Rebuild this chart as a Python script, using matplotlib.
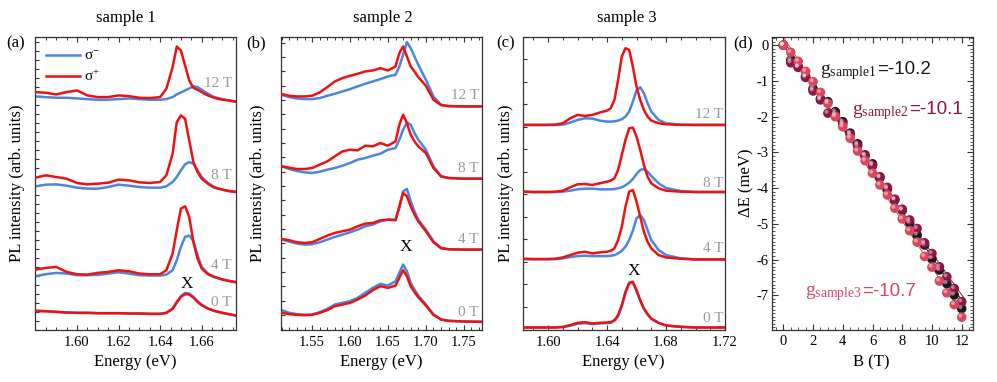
import numpy as np
import matplotlib
matplotlib.use('Agg')
import matplotlib.pyplot as plt
import matplotlib.transforms as mtransforms
from matplotlib.ticker import MultipleLocator, FixedLocator
from matplotlib.lines import Line2D

plt.rcParams['font.family'] = ['Liberation Serif', 'DejaVu Serif']
plt.rcParams['mathtext.fontset'] = 'custom'
plt.rcParams['mathtext.rm'] = 'Liberation Serif'
plt.rcParams['mathtext.it'] = 'Liberation Serif:italic'
plt.rcParams['mathtext.sf'] = 'Liberation Sans'
plt.rcParams['axes.unicode_minus'] = False

# ---------------- data ----------------
fields = ['0 T', '4 T', '8 T', '12 T']

# sample 1 (panel a)
energy_a = [1.580, 1.585, 1.590, 1.595, 1.600, 1.605, 1.610, 1.615, 1.620, 1.625,
            1.630, 1.635, 1.640, 1.643, 1.646, 1.648, 1.650, 1.652, 1.654, 1.656,
            1.658, 1.660, 1.663, 1.666, 1.670, 1.673, 1.6765]
offset_a = [42, 142, 413, 684]
sminus_a = [
    [14, 13, 11, 9, 8, 8, 7, 7, 7, 6, 6, 5, 5, 8, 21, 41, 58, 68, 66, 56, 43, 32, 21, 14, 8, 4, 0],
    [18, 24, 28, 26, 21, 21, 22, 26, 30, 26, 21, 20, 20, 23, 36, 66, 106, 136, 140, 124, 81, 46, 26, 16, 8, 4, 0],
    [17, 22, 23, 19, 13, 10, 10, 15, 22, 19, 15, 13, 13, 17, 30, 45, 65, 83, 90, 85, 65, 45, 27, 15, 7, 3, 0],
    [16, 14, 12, 12, 10, 8, 6, 6, 8, 10, 8, 6, 6, 8, 14, 22, 28, 34, 40, 47, 44, 36, 24, 14, 8, 4, 0],
]
splus_a = [
    [14, 13, 11, 9, 8, 8, 7, 7, 7, 6, 6, 5, 5, 8, 20, 39, 56, 64, 63, 54, 41, 31, 21, 14, 8, 4, 0],
    [38, 43, 46, 31, 24, 23, 28, 31, 36, 33, 26, 24, 24, 36, 86, 156, 221, 228, 196, 121, 71, 41, 24, 16, 8, 4, 0],
    [43, 50, 45, 40, 27, 23, 25, 28, 37, 35, 29, 27, 30, 50, 115, 210, 230, 220, 155, 90, 60, 40, 25, 13, 7, 3, 0],
    [29, 27, 22, 29, 34, 19, 14, 14, 19, 17, 12, 11, 14, 39, 104, 166, 154, 109, 64, 42, 36, 29, 19, 12, 6, 4, 0],
]

# sample 2 (panel b)
energy_b = [1.510, 1.520, 1.530, 1.540, 1.550, 1.560, 1.570, 1.580, 1.590, 1.600,
            1.610, 1.620, 1.630, 1.640, 1.650, 1.660, 1.665, 1.670, 1.675, 1.680,
            1.685, 1.690, 1.700, 1.710, 1.720, 1.730, 1.750, 1.774]
offset_b = [23, 240, 453, 670]
sminus_b = [
    [35, 27, 23, 21, 22, 29, 39, 52, 57, 62, 72, 87, 102, 114, 109, 122, 147, 172, 152, 117, 97, 79, 52, 22, 7, 3, 1, 0],
    [30, 24, 18, 15, 16, 22, 30, 38, 45, 52, 60, 70, 75, 85, 90, 90, 125, 175, 182, 145, 115, 90, 60, 25, 5, 1, 0, 0],
    [37, 29, 23, 19, 17, 21, 27, 32, 39, 47, 57, 62, 69, 75, 87, 92, 117, 147, 169, 162, 137, 117, 87, 37, 7, 2, 0, 0],
    [35, 28, 24, 22, 22, 25, 32, 38, 45, 52, 60, 68, 75, 82, 90, 95, 120, 155, 193, 175, 150, 125, 80, 30, 5, 1, 0, 0],
]
splus_b = [
    [27, 23, 21, 20, 21, 27, 35, 47, 52, 57, 67, 79, 95, 107, 102, 109, 132, 155, 137, 107, 89, 74, 49, 21, 7, 3, 1, 0],
    [32, 28, 22, 20, 22, 32, 42, 50, 55, 60, 70, 78, 80, 88, 90, 88, 130, 170, 160, 130, 105, 85, 55, 22, 4, 1, 0, 0],
    [37, 33, 29, 29, 32, 42, 52, 67, 82, 87, 85, 99, 97, 107, 99, 112, 162, 192, 167, 132, 112, 97, 77, 32, 7, 2, 0, 0],
    [37, 32, 30, 30, 32, 42, 58, 75, 85, 92, 98, 105, 108, 115, 108, 120, 160, 180, 150, 120, 105, 88, 62, 20, 4, 1, 0, 0],
]

# sample 3 (panel c)
energy_c = [1.583, 1.590, 1.600, 1.605, 1.610, 1.615, 1.620, 1.625, 1.630, 1.635,
            1.640, 1.6425, 1.645, 1.6475, 1.650, 1.6525, 1.655, 1.6575, 1.660, 1.6625,
            1.665, 1.6675, 1.670, 1.675, 1.680, 1.690, 1.700, 1.720]
offset_c = [6, 210, 412, 613]
sminus_c = [
    [0, 0, 0, 0, 1, 5, 11, 13, 10, 12, 13, 14, 20, 34, 64, 104, 132, 134, 110, 80, 56, 39, 26, 13, 6, 2, 0, 0],
    [1, 1, 1, 1, 3, 7, 10, 11, 10, 10, 10, 11, 13, 18, 26, 38, 58, 86, 123, 133, 118, 88, 58, 28, 13, 3, 0, 0],
    [1, 0, 0, 0, 1, 4, 8, 10, 10, 8, 8, 8, 9, 11, 14, 20, 28, 39, 54, 66, 69, 61, 48, 26, 12, 3, 0, 0],
    [0, 0, 0, 0, 1, 7, 15, 20, 19, 13, 10, 10, 11, 13, 17, 25, 40, 70, 103, 113, 95, 65, 40, 15, 5, 1, 0, 0],
]
splus_c = [
    [0, 0, 0, 0, 2, 7, 14, 16, 12, 14, 15, 16, 22, 37, 67, 107, 134, 137, 112, 82, 57, 40, 27, 14, 6, 2, 0, 0],
    [2, 1, 1, 2, 6, 13, 20, 23, 18, 21, 23, 26, 33, 58, 98, 158, 203, 208, 173, 128, 83, 53, 33, 13, 6, 2, 0, 0],
    [1, 0, 0, 1, 4, 14, 23, 24, 21, 26, 31, 34, 41, 66, 111, 156, 191, 193, 166, 126, 81, 46, 26, 11, 4, 1, 0, 0],
    [0, 0, 0, 1, 5, 20, 30, 27, 30, 37, 43, 50, 75, 135, 205, 230, 225, 175, 115, 75, 45, 25, 13, 5, 2, 0, 0, 0],
]

# panel d: Zeeman splitting
B_field = [0, 0.5, 1, 1.5, 2, 2.5, 3, 3.5, 4, 4.5, 5, 5.5, 6, 6.5, 7, 7.5, 8, 8.5,
           9, 9.5, 10, 10.5, 11, 11.5, 12]
dE_sample1 = [0, -0.42, -0.60, -0.88, -1.22, -1.50, -1.58, -1.86, -2.14, -2.46, -2.76,
              -3.07, -3.32, -3.71, -4.03, -4.33, -4.62, -4.97, -5.31, -5.59, -5.97,
              -6.29, -6.67, -6.99, -7.37]
dE_sample2 = [0, -0.49, -0.62, -0.90, -1.28, -1.53, -1.90, -1.95, -2.20, -2.50, -2.82,
              -3.10, -3.37, -3.68, -3.98, -4.31, -4.59, -4.89, -5.13, -5.53, -5.83,
              -6.20, -6.48, -6.81, -7.18]
dE_sample3 = [0, -0.20, -0.45, -0.73, -1.02, -1.32, -1.63, -2.00, -2.28, -2.60, -2.96,
              -3.23, -3.58, -3.91, -4.19, -4.56, -4.86, -5.19, -5.51, -5.91, -6.21,
              -6.60, -6.93, -7.26, -7.61]
g_names = ['sample1', 'sample2', 'sample3']
g_values = ['-10.2', '-10.1', '-10.7']

# ---------------- style ----------------
BLUE = '#4a86e0'
RED = '#ee1111'
GRAY = '#9a9a9a'
SPINE = '#333333'
C1, C2, C3 = '#1a1a1a', '#8a1746', '#d9475f'

W, H = 997, 382
fig = plt.figure(figsize=(W / 100, H / 100), dpi=100)


def axrect(x0, x1, y0=36.5, y1=329.5):
    return [x0 / W, 1 - y1 / H, (x1 - x0) / W, (y1 - y0) / H]


def style_spec(ax, xlim, ylim, majors, minor, ystep):
    ax.set_xlim(*xlim)
    ax.set_ylim(*ylim)
    ax.xaxis.set_major_locator(FixedLocator(majors))
    ax.xaxis.set_minor_locator(MultipleLocator(minor))
    ax.xaxis.set_major_formatter(plt.FuncFormatter(lambda v, p: f'{v:.2f}'))
    ax.yaxis.set_major_locator(MultipleLocator(ystep))
    ax.tick_params(axis='x', which='both', direction='in', top=True, bottom=True,
                   labelsize=10.5, color=SPINE, pad=5)
    ax.tick_params(axis='x', which='major', length=3.5, width=0.8)
    ax.tick_params(axis='x', which='minor', length=2, width=0.7)
    ax.tick_params(axis='y', which='major', direction='in', left=True, right=False,
                   length=3, width=0.8, color=SPINE, labelleft=False)
    for s in ax.spines.values():
        s.set_color(SPINE)
        s.set_linewidth(0.9)


def draw_spectra(ax, energy, offsets, sminus, splus, label_x, label_y, xpos):
    for i in range(len(fields)):
        ax.plot(energy, np.array(sminus[i]) + offsets[i], color=BLUE, lw=1.8, zorder=2)
        ax.plot(energy, np.array(splus[i]) + offsets[i], color=RED, lw=1.8, zorder=3)
        ax.text(label_x, label_y[i], fields[i], color=GRAY, fontsize=11,
                ha='right', va='center', zorder=4)
    ax.text(xpos[0], xpos[1], 'X', fontsize=12.5, ha='center', va='center', zorder=4)


# panel a
axa = fig.add_axes(axrect(35, 236))
draw_spectra(axa, energy_a, offset_a, sminus_a, splus_a, 1.6745, [81, 193, 463, 740],
             (1.6528, 138))
style_spec(axa, (1.5798, 1.6765), (0, 880), [1.60, 1.62, 1.64, 1.66], 0.005, 27)
axa.legend([Line2D([], [], color=BLUE, lw=1.8), Line2D([], [], color=RED, lw=1.8)],
           ['σ$^{-}$', 'σ$^{+}$'], loc='upper left',
           bbox_to_anchor=(0.01, 0.985), frameon=False, fontsize=11,
           handlelength=2.2, handletextpad=0.3, labelspacing=0.35, borderaxespad=0.2)

# panel b
axb = fig.add_axes(axrect(281, 482))
draw_spectra(axb, energy_b, offset_b, sminus_b, splus_b, 1.7698, [50, 270, 485, 703],
             (1.673, 248))
style_spec(axb, (1.509, 1.774), (0, 880), [1.55, 1.60, 1.65, 1.70, 1.75], 0.01, 43.05)

# panel c
axc = fig.add_axes(axrect(523, 725))
draw_spectra(axc, energy_c, offset_c, sminus_c, splus_c, 1.7189, [33, 243, 438, 643],
             (1.6582, 176))
style_spec(axc, (1.583, 1.72), (0, 878), [1.60, 1.64, 1.68, 1.72], 0.01, 67.5)

# panel d
axd = fig.add_axes(axrect(772, 973, 37, 330))
hl = mtransforms.offset_copy(axd.transData, fig=fig, x=-1.0, y=1.0, units='points')
series_d = ((dE_sample1, C1), (dE_sample2, C2), (dE_sample3, C3))
for dE, col in series_d:
    k, b0 = np.polyfit(B_field, dE, 1)
    bb = np.array([B_field[0], B_field[-1] + 0.2])
    axd.plot(bb, k * bb + b0, color=col, lw=0.7, zorder=1)
for dE, col in series_d:
    axd.scatter(B_field, dE, s=48, color=col, edgecolors='none', zorder=3)
    axd.scatter(B_field, dE, s=8, color='white', alpha=0.45, edgecolors='none',
                zorder=4, transform=hl)
axd.set_xlim(-0.76, 12.76)
axd.set_ylim(-7.97, 0.23)
axd.xaxis.set_major_locator(MultipleLocator(2))
axd.xaxis.set_minor_locator(MultipleLocator(0.5))
axd.yaxis.set_major_locator(MultipleLocator(1))
axd.yaxis.set_minor_locator(MultipleLocator(0.1))
axd.xaxis.set_major_formatter(plt.FuncFormatter(lambda v, p: f'{v:g}'))
axd.yaxis.set_major_formatter(plt.FuncFormatter(lambda v, p: '0' if abs(v) < 1e-9 else f'{v:g}'))
axd.tick_params(which='both', direction='in', top=True, right=True, labelsize=10.5,
                color=SPINE)
axd.tick_params(axis='y', pad=2.5)
axd.tick_params(which='major', length=4, width=0.8)
axd.tick_params(which='minor', length=2, width=0.6)
for s in axd.spines.values():
    s.set_color(SPINE)
    s.set_linewidth(0.9)

g_pos = [(2.47, -0.80), (4.6, -1.92), (1.46, -7.01)]
g_cols = [C1, C2, C3]
g_texts = []
for (gx, gy), name, col in zip(g_pos, g_names, g_cols):
    t = axd.text(gx, gy, r'g$_{\mathrm{' + name + '}}$', color=col, fontsize=14,
                 ha='left', va='baseline')
    g_texts.append(t)
fig.canvas.draw()
renderer = fig.canvas.get_renderer()
for t, (gx, gy), val, col in zip(g_texts, g_pos, g_values, g_cols):
    bb = t.get_window_extent(renderer)
    x0 = axd.transData.transform((gx, gy))[0]
    wpts = (bb.x1 - x0) * 72 / fig.dpi
    axd.annotate('=' + val, xy=(gx, gy), xytext=(wpts + 0.3, 0), textcoords='offset points',
                 color=col, fontsize=13.5, family='Liberation Sans', ha='left', va='baseline')

# ---------------- labels ----------------
def fy(py):
    return 1 - py / H


for cx, t in ((126, 'sample 1'), (383, 'sample 2'), (627, 'sample 3')):
    fig.text(cx / W, fy(21.7), t, fontsize=12, ha='center', va='baseline')
for cx, t in ((16, '(a)'), (256, '(b)'), (506, '(c)'), (743, '(d)')):
    fig.text(cx / W, fy(43.5), t, fontsize=12, ha='center', va='center')
for cx in (135, 381, 623.5):
    fig.text(cx / W, fy(362), 'Energy (eV)', fontsize=12, ha='center', va='center')
fig.text(871 / W, fy(362), 'B (T)', fontsize=12, ha='center', va='center')
for cx in (17, 257.5, 505.5):
    fig.text(cx / W, fy(183), 'PL intensity (arb. units)', fontsize=12, rotation=90,
             ha='center', va='center')
fig.text(746 / W, fy(183), 'ΔE (meV)', fontsize=12, rotation=90, ha='center', va='center')

fig.savefig('out.png', dpi=100)
